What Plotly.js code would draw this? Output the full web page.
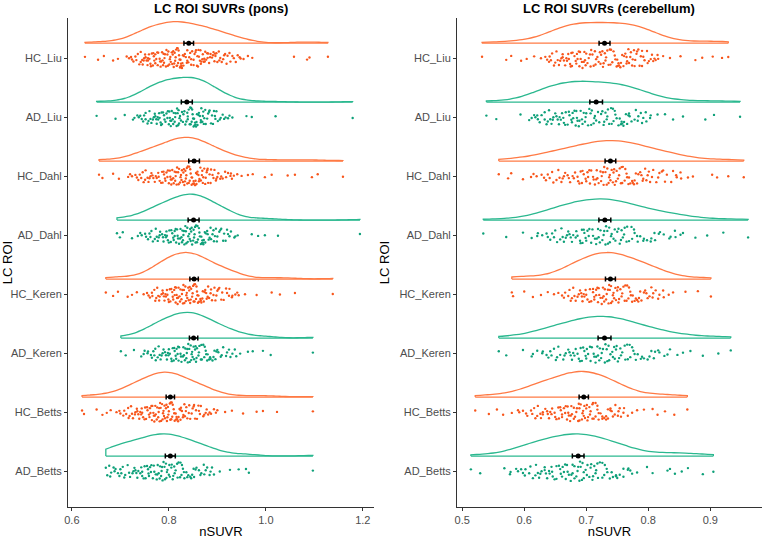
<!DOCTYPE html>
<html><head><meta charset="utf-8">
<script src="https://cdn.plot.ly/plotly-3.0.1.min.js"></script>
<style>html,body{margin:0;padding:0;background:#fff}</style>
</head><body>
<div id="chart" style="width:764px;height:539px"></div>
<script>
// categories bottom -> top
const categories = ['AD_Betts','HC_Betts','AD_Keren','HC_Keren','AD_Dahl','HC_Dahl','AD_Liu','HC_Liu'];
const groupOf = ['AD','HC','AD','HC','AD','HC','AD','HC'];

// ---- pons nSUVR values (x1000) ----
const pons_HC_Liu = [627,654,666,685,695,713,718,724,727,731,736,739,742,746,749,751,754,757,759,762,765,767,769,772,774,776,778,781,783,784,787,789,791,792,795,797,798,801,803,804,806,808,810,811,813,815,816,818,820,821,823,825,826,828,830,831,833,835,837,838,840,842,844,846,848,851,853,855,858,860,862,865,867,870,872,875,877,880,883,886,889,892,896,900,904,909,914,919,925,931,938,946,954,963,972,1058,1085,1090,1128,
745,752,768,777,782,790,794,799,802,807,809,812,814,817,819,822,824,827,742,748,756,763,772,895,903,916,921,934,948,856,859,861,864,869,874,879,885,891,898,906,733,760,786,817,829,846,866,881,912,942,722,757,788,824,838,851,873,894,927,770];
const pons_AD_Liu = [651,690,709,726,735,741,747,752,756,760,764,767,771,774,777,780,783,786,788,791,793,795,798,800,802,804,806,808,810,812,814,816,818,820,822,823,825,827,829,830,832,834,836,838,839,841,843,845,847,849,851,853,855,857,859,862,864,867,870,873,876,879,883,887,891,896,901,907,914,922,931,960,971,1020,1179,
738,749,762,769,778,784,790,797,801,805,809,813,817,821,752,758,775,781,866,872,884,895,905,844,846,848,850,852,856,858,861,866,869,875,881,889,898,911,925,744,772,803,819,839,854,871,893,917,729,785];
const pons_HC_Dahl = [656,663,685,697,716,724,731,737,743,748,752,756,760,764,768,771,775,778,781,784,787,790,793,795,798,800,803,805,807,810,812,814,816,819,821,823,825,827,829,831,833,835,837,839,841,843,845,847,850,852,854,856,858,861,863,865,868,870,873,876,879,881,884,887,890,894,898,902,906,911,916,922,928,934,950,973,998,1012,1045,1060,1095,1107,1159,
720,734,746,758,766,773,779,786,792,797,802,806,809,813,817,820,824,826,830,832,836,838,842,844,848,851,855,859,862,866,871,875,880,886,892,900,908,918,927,740,762,789,815,834,857,878,897,930,751,804,847,869,941,963];
const pons_AD_Dahl = [693,699,705,724,736,744,751,757,762,767,771,775,779,782,786,789,792,795,798,801,804,807,809,812,814,817,819,821,824,826,828,830,832,834,836,838,840,842,844,846,848,850,852,854,856,858,860,862,864,867,869,871,874,876,879,882,884,887,890,893,897,900,904,908,912,917,922,928,935,942,971,984,998,1025,1194,
741,753,764,773,781,788,794,800,805,810,815,818,823,827,831,835,839,843,847,851,855,859,863,866,870,875,880,886,892,899,906,914,925,937,760,796,829,853,872,895,920,777,812,845,868];
const pons_HC_Keren = [670,685,695,715,724,734,748,755,761,766,770,774,778,781,785,788,791,794,797,800,802,805,807,809,812,814,816,818,820,822,824,826,828,830,832,834,836,838,840,842,844,846,848,850,852,854,856,858,860,862,865,867,869,872,874,877,880,883,886,889,892,896,900,904,908,913,918,924,930,937,944,957,981,1012,1029,1060,1138,
758,765,772,780,787,793,799,803,808,811,815,819,823,827,831,835,837,841,845,849,853,857,861,866,870,875,881,887,894,902,910,920,931,941,776,796,813,829,843,859,878,898,925,790,817,851];
const pons_AD_Keren = [701,711,728,743,750,757,763,768,773,777,781,785,789,792,796,799,802,805,808,811,814,816,819,821,824,826,829,831,833,836,838,840,842,845,847,849,851,854,856,858,861,863,866,868,871,874,877,880,883,886,890,894,898,902,907,912,918,924,931,939,947,963,973,994,1010,1097,
748,756,765,772,779,787,794,800,806,810,815,820,825,830,834,839,843,848,852,857,862,867,873,879,885,892,900,909,920,936,770,798,818,837,855,876,896,927,783,812,846];
const pons_HC_Betts = [621,625,651,663,672,680,692,700,706,712,717,722,726,730,734,737,741,744,747,750,753,756,759,761,764,766,769,771,773,776,778,780,782,784,786,788,790,792,794,796,798,800,802,804,806,808,810,812,815,817,819,822,824,827,829,832,835,838,841,844,847,851,854,858,862,866,871,876,881,887,893,900,916,930,953,981,994,1023,1097,
698,708,716,724,731,739,745,751,755,760,765,768,772,775,779,783,787,791,795,799,803,807,811,816,820,825,830,836,842,849,856,864,873,884,897,719,743,762,781,797,814,833,852,878,735,770,789,805,824,861];
const pons_AD_Betts = [670,673,677,681,686,690,695,700,705,710,715,720,725,729,733,737,741,745,748,752,755,758,761,764,767,770,773,776,779,782,784,787,789,792,795,797,800,802,805,808,811,814,817,820,823,826,829,832,836,840,844,848,852,857,862,867,873,879,886,893,905,926,944,959,965,1097,
679,688,698,708,718,727,735,743,750,757,763,769,775,781,786,791,796,801,806,812,818,824,831,838,846,855,865,876,889,702,731,759,777,794,809,827,851,872,884,745,785];

// ---- cerebellum nSUVR values (x1000) ----
const cb_HC_Liu = [532,571,579,595,604,616,627,634,640,645,650,654,658,662,666,669,672,675,678,681,684,686,689,691,694,696,698,700,702,704,706,708,710,712,714,716,718,720,722,724,726,728,730,732,734,736,738,740,742,744,746,749,751,753,756,758,761,763,766,769,772,775,778,782,786,790,794,799,804,810,816,824,835,852,876,887,904,919,929,
637,648,656,664,671,677,683,688,693,697,641,652,662,668,676,685,765,774,781,790,798,808,750,755,760,765,771,777,784,792,801,812,660,690,707,723,739,752,768,788,806,643,699,715,731,747,779,815,674,727];
const cb_AD_Liu = [539,555,594,608,616,622,628,633,638,642,646,650,654,657,661,664,667,670,673,676,679,681,684,686,689,691,694,696,698,700,703,705,707,709,712,714,716,719,721,724,726,729,731,734,737,740,743,746,749,752,756,760,764,768,773,778,784,790,797,804,815,827,840,856,892,906,948,
612,625,636,644,652,659,666,672,678,683,688,693,621,633,647,656,757,769,783,796,735,741,747,754,761,770,780,792,803,640,663,685,699,713,728,744,766,788,618,677,708,733,758];
const cb_HC_Dahl = [559,574,579,598,611,620,628,635,641,647,652,657,662,666,670,674,678,682,686,689,693,696,699,702,705,708,711,714,717,720,723,725,728,731,733,736,738,741,743,746,749,751,754,757,759,762,765,768,771,774,777,780,784,787,791,795,799,803,808,813,818,824,830,837,845,853,864,872,903,911,929,954,
615,632,645,655,664,672,680,687,694,700,706,712,718,724,729,734,739,744,748,753,758,763,769,775,782,789,797,806,816,827,840,852,660,691,716,737,756,778,801,822,846,638,703,727,745,766,792];
const cb_AD_Dahl = [534,571,598,612,621,629,636,642,648,653,658,662,667,671,675,679,683,686,690,693,696,699,702,705,708,711,714,717,720,723,726,729,732,735,738,741,744,747,750,754,757,761,765,769,773,777,782,787,792,798,804,810,817,825,834,844,856,876,895,921,961,
622,638,650,660,669,677,684,691,697,704,710,716,722,728,734,740,746,752,759,766,774,783,793,805,819,836,852,645,673,700,719,737,756,778,811,843,664,694,731,762];
const cb_HC_Keren = [580,582,600,614,627,638,648,655,661,666,671,675,679,683,686,690,693,696,699,702,705,708,711,713,716,718,721,723,726,728,730,733,735,737,740,742,745,747,750,752,755,758,760,763,766,769,772,775,778,782,785,789,793,797,802,807,812,818,825,833,840,860,880,901,
664,673,681,688,694,700,706,711,716,720,725,729,732,736,740,744,748,753,757,762,768,774,780,787,795,805,816,824,677,697,713,727,738,751,765,784,808,692,719,743,771,799];
const cb_AD_Keren = [559,571,598,612,621,629,636,642,648,653,658,663,667,671,675,679,683,686,690,693,697,700,703,706,709,712,715,718,721,724,727,730,733,736,739,742,745,748,751,755,758,762,766,770,774,778,783,788,793,799,805,811,818,826,835,847,856,868,888,913,933,
614,630,644,655,665,673,681,688,695,701,707,713,719,725,731,737,743,749,756,763,771,780,790,802,816,831,651,677,699,716,734,753,776,809,639,691,722,746,767];
const cb_HC_Betts = [521,543,556,566,580,590,598,605,611,616,621,626,630,634,638,642,645,649,652,655,658,661,664,667,670,672,675,677,680,682,684,687,689,691,694,696,698,700,703,705,707,710,712,715,718,720,723,726,729,732,735,739,743,747,751,756,761,767,774,782,793,807,815,827,842,863,
592,603,613,622,630,637,644,650,656,661,666,671,676,680,685,689,693,697,701,706,710,715,720,726,732,739,746,754,760,618,640,659,674,688,702,718,735,752,627,669,695,711,741];
const cb_AD_Betts = [514,529,568,578,587,595,602,608,614,619,624,628,633,637,641,645,649,652,656,659,662,666,669,672,675,678,681,684,687,690,693,696,699,702,705,708,711,715,718,722,726,730,734,738,743,748,754,760,767,774,782,798,807,831,835,843,854,864,888,905,
577,590,601,610,618,626,633,640,646,652,658,664,670,676,681,686,691,696,701,707,713,719,726,733,741,750,760,771,598,622,644,661,678,694,710,729,748,768,635,667,689,716];

// means and error half-widths (order = categories)
const ponsMeans = [0.803,0.803,0.851,0.852,0.851,0.852,0.837,0.841];
const ponsErr   = [0.0103,0.0086,0.0086,0.0087,0.0113,0.011,0.0113,0.0099];
const cbMeans   = [0.687,0.696,0.7295,0.739,0.730,0.739,0.716,0.7295];
const cbErr     = [0.0094,0.0075,0.0104,0.008,0.0096,0.0086,0.0102,0.0088];

const ponsSets = [pons_AD_Betts,pons_HC_Betts,pons_AD_Keren,pons_HC_Keren,pons_AD_Dahl,pons_HC_Dahl,pons_AD_Liu,pons_HC_Liu];
const cbSets = [cb_AD_Betts,cb_HC_Betts,cb_AD_Keren,cb_HC_Keren,cb_AD_Dahl,cb_HC_Dahl,cb_AD_Liu,cb_HC_Liu];

const pointColor = {HC:'#F8561C', AD:'#0EA079'};
const lineColor = {HC:'#FF7A45', AD:'#2BB88F'};
const NUDGE = 0.254;

const traces = [];
function addPanel(sets, means, errs, xa, ya, yv, sg){
  sets.forEach((arr, i) => {
    const g = groupOf[i];
    const vals = arr.map(v => v/1000);
    traces.push({type:'box', orientation:'h', x: vals, y0: i+1, xaxis: xa, yaxis: ya,
      boxpoints:'all', jitter:1, pointpos:0, width:0.34,
      fillcolor:'rgba(0,0,0,0)', line:{width:0, color:'rgba(0,0,0,0)'},
      marker:{size:2.4, color: pointColor[g]}, hoverinfo:'skip', showlegend:false});
  });
  sets.forEach((arr, i) => {
    const g = groupOf[i];
    const vals = arr.map(v => v/1000);
    traces.push({type:'violin', orientation:'h', x: vals, y0: i+1+NUDGE, xaxis: xa, yaxis: yv,
      side:'positive', points:false, spanmode:'hard', scalegroup: sg, scalemode:'width',
      line:{color: lineColor[g], width:1.3}, fillcolor:'rgba(0,0,0,0)',
      box:{visible:false}, meanline:{visible:false}, hoverinfo:'skip', showlegend:false});
    traces.push({type:'scatter', mode:'lines', x:[Math.min(...vals), Math.max(...vals)], y:[i+1+NUDGE, i+1+NUDGE],
      xaxis: xa, yaxis: yv, line:{color: lineColor[g], width:1.3}, hoverinfo:'skip', showlegend:false});
  });
  traces.push({type:'scatter', mode:'markers', x: means, y: categories.map((c,i)=>i+1+NUDGE),
    xaxis: xa, yaxis: yv, marker:{color:'#000', size:5},
    error_x:{type:'data', array: errs, color:'#000', thickness:1.5, width:2.5},
    hoverinfo:'skip', showlegend:false});
}
addPanel(ponsSets, ponsMeans, ponsErr, 'x', 'y', 'y3', 'pons');
addPanel(cbSets, cbMeans, cbErr, 'x2', 'y2', 'y4', 'cb');

const FAM = 'Liberation Sans, Arial, sans-serif';
const YR = [0.39, 8.68];
const yax = (anchor) => ({anchor, type:'linear', range:YR, tickvals:[1,2,3,4,5,6,7,8], ticktext: categories,
  showline:true, linecolor:'#333', linewidth:1, ticks:'outside', ticklen:3, tickcolor:'#333',
  showgrid:false, zeroline:false, tickfont:{family:FAM, size:11, color:'#4d4d4d'},
  title:{text:'LC ROI', font:{family:FAM, size:13, color:'#000'}, standoff:6}});
const yover = (over, anchor) => ({overlaying: over, anchor, type:'linear', range:YR, visible:false, showgrid:false, zeroline:false});
const xax = (dom, anchor, range, dtick, tick0) => ({domain: dom, anchor, range, dtick, tick0, tickformat:'.1f',
  showline:true, linecolor:'#333', linewidth:1, ticks:'outside', ticklen:3, tickcolor:'#333',
  showgrid:false, zeroline:false, tickfont:{family:FAM, size:11, color:'#4d4d4d'},
  title:{text:'nSUVR', font:{family:FAM, size:13, color:'#000'}, standoff:4}});

const layout = {
  width:764, height:539, paper_bgcolor:'#fff', plot_bgcolor:'rgba(0,0,0,0)',
  margin:{l:68, r:2, t:18, b:32},
  font:{family:FAM, size:11, color:'#4d4d4d'},
  violingap: 0.1, violingroupgap: 0, violinmode:'overlay', boxmode:'overlay',
  xaxis: xax([0, 0.4409], 'y', [0.592, 1.223], 0.2, 0.6),
  yaxis: yax('x'),
  xaxis2: xax([0.5605, 1], 'y2', [0.4916, 0.9834], 0.1, 0.5),
  yaxis2: yax('x2'),
  yaxis3: yover('y', 'x'),
  yaxis4: yover('y2', 'x2'),
  annotations:[
    {text:'<b>LC ROI SUVRs (pons)</b>', xref:'paper', yref:'paper', x:0.2205, y:1, xanchor:'center', yanchor:'bottom', showarrow:false, font:{family:FAM, size:13, color:'#000'}},
    {text:'<b>LC ROI SUVRs (cerebellum)</b>', xref:'paper', yref:'paper', x:0.78, y:1, xanchor:'center', yanchor:'bottom', showarrow:false, font:{family:FAM, size:13, color:'#000'}}
  ]
};
Plotly.newPlot('chart', traces, layout, {displayModeBar:false, staticPlot:true});
</script>
</body></html>
